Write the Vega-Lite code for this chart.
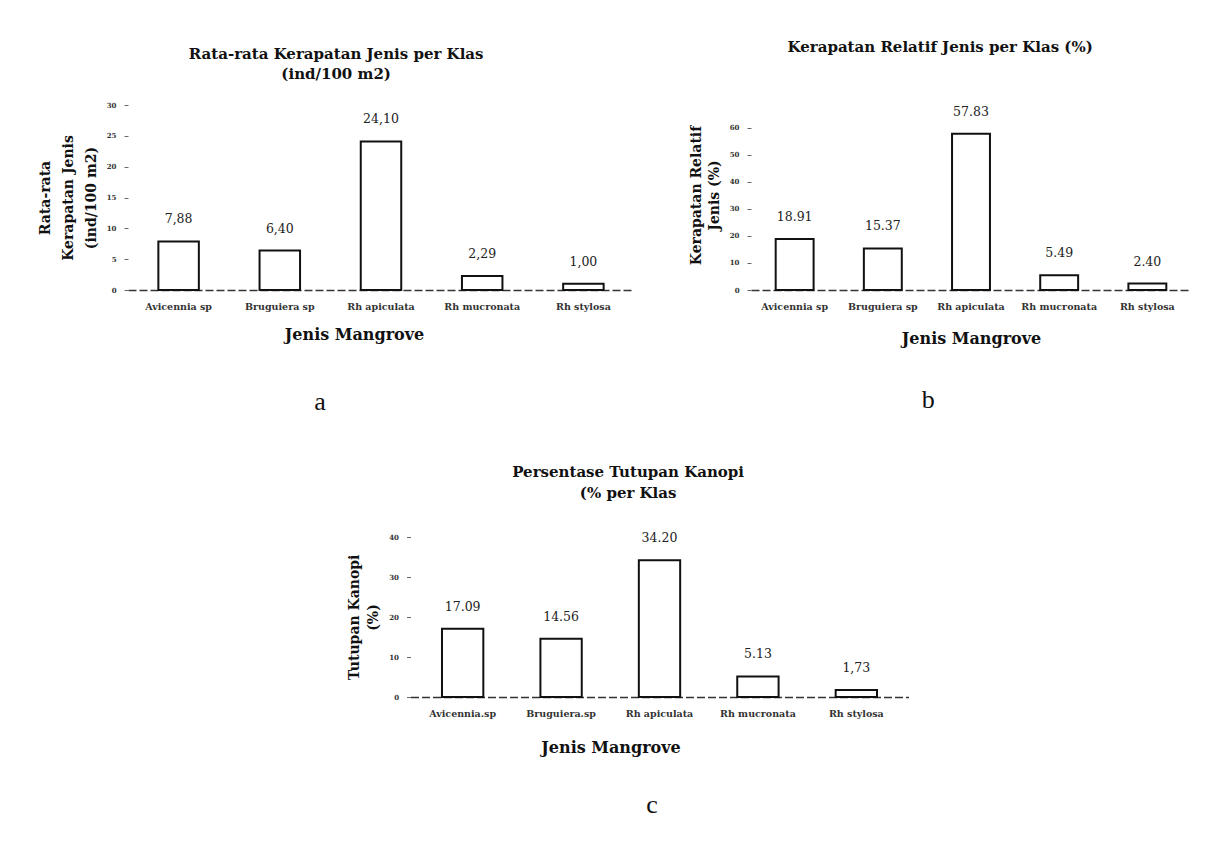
{
  "$schema": "https://vega.github.io/schema/vega-lite/v6.json",
  "background": "white",
  "padding": {"left": 38, "top": 40, "right": 10, "bottom": 10},
  "datasets": {
    "a": [
      {"jenis": "Avicennia sp", "value": 7.88, "label": "7,88"},
      {"jenis": "Bruguiera sp", "value": 6.40, "label": "6,40"},
      {"jenis": "Rh apiculata", "value": 24.10, "label": "24,10"},
      {"jenis": "Rh mucronata", "value": 2.29, "label": "2,29"},
      {"jenis": "Rh stylosa", "value": 1.00, "label": "1,00"}
    ],
    "b": [
      {"jenis": "Avicennia sp", "value": 18.91, "label": "18.91"},
      {"jenis": "Bruguiera sp", "value": 15.37, "label": "15.37"},
      {"jenis": "Rh apiculata", "value": 57.83, "label": "57.83"},
      {"jenis": "Rh mucronata", "value": 5.49, "label": "5.49"},
      {"jenis": "Rh stylosa", "value": 2.40, "label": "2.40"}
    ],
    "c": [
      {"jenis": "Avicennia sp", "value": 17.09, "label": "17.09"},
      {"jenis": "Bruguiera sp", "value": 14.56, "label": "14.56"},
      {"jenis": "Rh apiculata", "value": 34.20, "label": "34.20"},
      {"jenis": "Rh mucronata", "value": 5.13, "label": "5.13"},
      {"jenis": "Rh stylosa", "value": 1.73, "label": "1,73"}
    ]
  },
  "config": {
    "font": "DejaVu Serif",
    "view": {"stroke": null},
    "axis": {
      "labelFont": "DejaVu Serif",
      "titleFont": "DejaVu Serif",
      "labelFontSize": 9.5,
      "labelFontWeight": "bold",
      "titleFontSize": 14,
      "titleFontWeight": "bold",
      "labelColor": "#333",
      "titleColor": "#111",
      "grid": false,
      "tickColor": "#666",
      "tickSize": 4
    },
    "axisX": {"domainColor": "#333", "domainWidth": 1.3, "domainDash": [8, 3], "ticks": false, "labelAngle": 0, "labelPadding": 11, "titlePadding": 16, "titleFontSize": 16},
    "axisY": {"domain": false, "labelPadding": 8, "titlePadding": 8, "labelFontSize": 7},
    "title": {"font": "DejaVu Serif", "fontSize": 15, "fontWeight": "bold", "color": "#111"}
  },
  "center": true,
  "spacing": 50,
  "vconcat": [
    {
      "spacing": 55,
      "hconcat": [
        {
          "title": {"text": "a", "orient": "bottom", "anchor": "middle", "font": "Liberation Serif", "fontSize": 26, "fontWeight": "normal", "offset": 46, "dx": -16},
          "vconcat": [
            {
              "title": {"text": ["Rata-rata Kerapatan Jenis per Klas", "(ind/100 m2)"], "lineHeight": 20, "offset": 19, "frame": "bounds", "anchor": "middle"},
              "data": {"name": "a"},
              "width": 506,
              "height": 185,
              "encoding": {
                "x": {"field": "jenis", "type": "nominal", "sort": null, "scale": {"paddingInner": 0.6, "paddingOuter": 0.3}, "axis": {"title": "Jenis Mangrove", "titleX": 226}},
                "y": {"field": "value", "type": "quantitative", "scale": {"domain": [0, 30]}, "axis": {"values": [0, 5, 10, 15, 20, 25, 30], "title": ["Rata-rata", "Kerapatan Jenis", "(ind/100 m2)"], "titleLineHeight": 23}}
              },
              "layer": [
                {"mark": {"type": "bar", "fill": "white", "stroke": "#111", "strokeWidth": 2}},
                {"mark": {"type": "text", "dy": -22, "fontSize": 12.5, "font": "DejaVu Serif", "color": "#222"}, "encoding": {"text": {"field": "label"}}}
              ]
            }
          ]
        },
        {
          "title": {"text": "b", "orient": "bottom", "anchor": "middle", "font": "Liberation Serif", "fontSize": 26, "fontWeight": "normal", "offset": 40, "dx": -12},
          "vconcat": [
            {
              "title": {"text": "Kerapatan Relatif Jenis per Klas (%)", "offset": 50, "frame": "bounds", "anchor": "middle"},
              "data": {"name": "b"},
              "width": 440,
              "height": 185,
              "encoding": {
                "x": {"field": "jenis", "type": "nominal", "sort": null, "scale": {"paddingInner": 0.57, "paddingOuter": 0.28}, "axis": {"title": "Jenis Mangrove", "titlePadding": 20}},
                "y": {"field": "value", "type": "quantitative", "scale": {"domain": [0, 68.5]}, "axis": {"values": [0, 10, 20, 30, 40, 50, 60], "title": ["Kerapatan Relatif", "Jenis (%)"], "titleLineHeight": 18, "titleY": 90}}
              },
              "layer": [
                {"mark": {"type": "bar", "fill": "white", "stroke": "#111", "strokeWidth": 2}},
                {"mark": {"type": "text", "dy": -22, "fontSize": 12.5, "font": "DejaVu Serif", "color": "#222"}, "encoding": {"text": {"field": "label"}}}
              ]
            }
          ]
        }
      ]
    },
    {
      "title": {"text": "c", "orient": "bottom", "anchor": "middle", "font": "Liberation Serif", "fontSize": 26, "fontWeight": "normal", "offset": 36, "dx": 24},
      "vconcat": [
        {
          "title": {"text": ["Persentase Tutupan Kanopi", "(% per Klas"], "lineHeight": 21, "offset": 31, "frame": "bounds", "anchor": "middle"},
          "data": {"name": "c"},
          "width": 498,
          "height": 160,
          "encoding": {
            "x": {"field": "jenis", "type": "nominal", "sort": null, "scale": {"paddingInner": 0.58, "paddingOuter": 0.32}, "axis": {"title": "Jenis Mangrove", "titlePadding": 22, "titleX": 200, "labelExpr": "datum.value == 'Avicennia sp' ? 'Avicennia.sp' : datum.value == 'Bruguiera sp' ? 'Bruguiera.sp' : datum.value"}},
            "y": {"field": "value", "type": "quantitative", "scale": {"domain": [0, 40]}, "axis": {"values": [0, 10, 20, 30, 40], "title": ["Tutupan Kanopi", "(%)"], "titleLineHeight": 19, "titlePadding": 8}}
          },
          "layer": [
            {"mark": {"type": "bar", "fill": "white", "stroke": "#111", "strokeWidth": 2}},
            {"mark": {"type": "text", "dy": -22, "fontSize": 12.5, "font": "DejaVu Serif", "color": "#222"}, "encoding": {"text": {"field": "label"}}}
          ]
        }
      ]
    }
  ]
}
